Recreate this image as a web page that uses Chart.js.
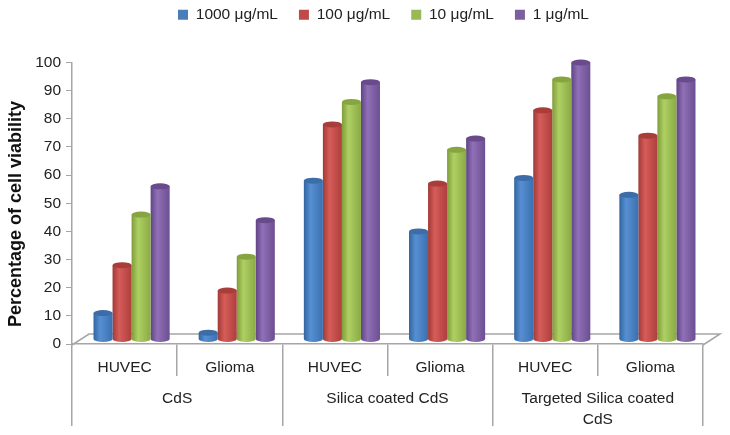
<!DOCTYPE html>
<html>
<head>
<meta charset="utf-8">
<style>
  html, body { margin: 0; padding: 0; background: #fff; }
  #wrap { width: 730px; height: 435px; }
</style>
<script src="https://cdn.jsdelivr.net/npm/chart.js@4"></script>
</head>
<body>
<div id="wrap"><canvas id="chart-canvas"></canvas></div>
<script>
const cells = ["HUVEC", "Glioma", "HUVEC", "Glioma", "HUVEC", "Glioma"];
const groups = ["CdS", "Silica coated CdS", ["Targeted Silica coated", "CdS"]];
const yTicks = [0, 10, 20, 30, 40, 50, 60, 70, 80, 90, 100];
const yTitle = "Percentage of cell viability";

const conc1000 = [11, 4, 58, 40, 59, 53];
const conc100 = [28, 19, 78, 57, 83, 74];
const conc10 = [46, 31, 86, 69, 94, 88];
const conc1 = [56, 44, 93, 73, 100, 94];

const seriesNames = ["1000 μg/mL", "100 μg/mL", "10 μg/mL", "1 μg/mL"];
const seriesColors = ["#4a7ebb", "#be4b48", "#98b954", "#7d5fa0"];

// dark edge, light middle, dark edge for the cylinder look
const shades = [
  ["#32659f", "#5690d2", "#3b70b0"],
  ["#a03a37", "#d65c59", "#ad3f3c"],
  ["#7f9c3a", "#aed063", "#8aaa45"],
  ["#5f4484", "#9070b6", "#6c4e92"]
];
const capColors = ["#3c6da8", "#a83d3a", "#86a540", "#694a8c"];

const textFont = "'Liberation Sans', Arial, sans-serif";
const lineGrey = "#a6a6a6";
const depthX = 7; // bars sit halfway into the floor
const floorX = 17;
const floorY = 11;
const legendShift = 32;

// keeps the legend high up, moves it right and leaves room below it
const legendGap = {
  id: "legendGap",
  beforeInit(chart) {
    const fit = chart.legend.fit;
    const draw = chart.legend.draw;
    chart.legend.fit = function () {
      fit.bind(chart.legend)();
      this.height += 30;
    };
    chart.legend.draw = function () {
      chart.ctx.save();
      chart.ctx.translate(legendShift, 0);
      draw.bind(chart.legend)();
      chart.ctx.restore();
    };
  }
};

const floorPlugin = {
  id: "floor",
  beforeDatasetsDraw(chart) {
    const { ctx, chartArea: a } = chart;
    const y0 = chart.scales.y.getPixelForValue(0) + 1;
    ctx.save();
    ctx.strokeStyle = lineGrey;
    ctx.lineWidth = 1.5;
    ctx.beginPath();
    ctx.moveTo(a.left, y0);
    ctx.lineTo(a.left + floorX, y0 - floorY);
    ctx.lineTo(a.right + floorX, y0 - floorY);
    ctx.lineTo(a.right, y0);
    ctx.stroke();
    // axis title sits lower than the middle of the axis
    ctx.translate(16, 214);
    ctx.rotate(-Math.PI / 2);
    ctx.fillStyle = "#111";
    ctx.font = "bold 18px " + textFont;
    ctx.textAlign = "center";
    ctx.textBaseline = "middle";
    ctx.fillText(yTitle, 0, 0);
    ctx.restore();
  }
};

const cylinderPlugin = {
  id: "cylinder",
  beforeDatasetDraw(chart, args) {
    const { ctx } = chart;
    const i = args.index;
    const base = chart.scales.y.getPixelForValue(0) - 5;
    args.meta.data.forEach((bar) => {
      const p = bar.getProps(["x", "y", "width"], true);
      const x = p.x + depthX - p.width / 2;
      const w = p.width;
      const ry = 3;
      const grad = ctx.createLinearGradient(x, 0, x + w, 0);
      grad.addColorStop(0, shades[i][0]);
      grad.addColorStop(0.35, shades[i][1]);
      grad.addColorStop(1, shades[i][2]);
      ctx.save();
      ctx.fillStyle = grad;
      ctx.beginPath();
      ctx.moveTo(x, p.y);
      ctx.lineTo(x, base);
      ctx.ellipse(x + w / 2, base, w / 2, ry, 0, Math.PI, 0, true);
      ctx.lineTo(x + w, p.y);
      ctx.closePath();
      ctx.fill();
      ctx.fillStyle = capColors[i];
      ctx.beginPath();
      ctx.ellipse(x + w / 2, p.y, w / 2, ry, 0, 0, Math.PI * 2);
      ctx.fill();
      ctx.restore();
    });
    return false;
  }
};

const datasets = [conc1000, conc100, conc10, conc1].map((values, i) => ({
  label: seriesNames[i],
  data: values,
  backgroundColor: seriesColors[i],
  borderWidth: 0,
  barPercentage: 1,
  categoryPercentage: 0.724
}));

new Chart(document.getElementById("chart-canvas"), {
  type: "bar",
  data: { labels: cells, datasets: datasets },
  plugins: [legendGap, floorPlugin, cylinderPlugin],
  options: {
    responsive: true,
    maintainAspectRatio: false,
    animation: false,
    layout: { padding: { top: -14, right: 27, bottom: 9, left: 0 } },
    plugins: {
      tooltip: { enabled: false },
      legend: {
        position: "top",
        align: "center",
        labels: {
          boxWidth: 10,
          boxHeight: 10,
          padding: 21,
          color: "#222",
          font: { family: textFont, size: 15.5 }
        }
      }
    },
    scales: {
      x: {
        grid: { drawOnChartArea: false, color: lineGrey, lineWidth: 1.5, tickLength: 32 },
        border: { color: lineGrey, width: 1.5 },
        ticks: {
          color: "#222",
          padding: -18,
          maxRotation: 0,
          autoSkip: false,
          font: { family: textFont, size: 15.5 }
        },
        afterFit(scale) { scale.height = 32; }
      },
      x2: {
        type: "category",
        position: "bottom",
        labels: groups,
        grid: { drawOnChartArea: false, color: lineGrey, lineWidth: 1.5, tickLength: 50 },
        border: { display: false },
        ticks: {
          color: "#222",
          padding: -37,
          maxRotation: 0,
          autoSkip: false,
          font: { family: textFont, size: 15.5, lineHeight: 1.3 }
        },
        afterFit(scale) { scale.height = 50; }
      },
      y: {
        min: 0,
        max: 100,
        afterBuildTicks(scale) { scale.ticks = yTicks.map((v) => ({ value: v })); },
        grid: { drawOnChartArea: false, color: lineGrey, lineWidth: 1, tickLength: 6 },
        border: { color: lineGrey, width: 1.5 },
        ticks: {
          color: "#222",
          padding: 5,
          font: { family: textFont, size: 15.5 }
        },
        afterFit(scale) { scale.width = 72; }
      }
    }
  }
});
</script>
</body>
</html>
